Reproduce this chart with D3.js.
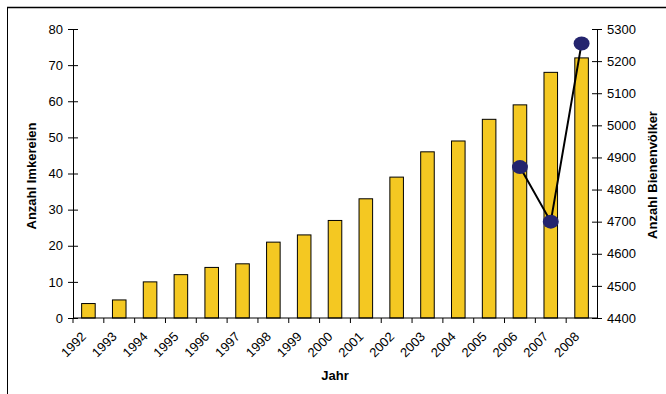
<!DOCTYPE html>
<html>
<head>
<meta charset="utf-8">
<script src="https://cdn.jsdelivr.net/npm/d3@7/dist/d3.min.js"></script>
<style>
  html, body { margin: 0; padding: 0; background: #fff; }
  svg { display: block; font-family: "Liberation Sans", Arial, sans-serif; }
</style>
</head>
<body>
<svg id="chart" width="666" height="394"></svg>
<script>
// Beekeeping statistics per year
const years = ["1992","1993","1994","1995","1996","1997","1998","1999","2000",
               "2001","2002","2003","2004","2005","2006","2007","2008"];
const imkereien = [4, 5, 10, 12, 14, 15, 21, 23, 27, 33, 39, 46, 49, 55, 59, 68, 72];
const volkJahre = ["2006", "2007", "2008"];
const bienenvoelker = [4870, 4700, 5255];
const leftTicks = [0, 10, 20, 30, 40, 50, 60, 70, 80];
const rightTicks = [4400, 4500, 4600, 4700, 4800, 4900, 5000, 5100, 5200, 5300];

const svg = d3.select("#chart");
const plot = { left: 73, right: 597, top: 29, bottom: 318 };
const FONT = "Liberation Sans, Arial, sans-serif";

// Frame: top and left edges
svg.append("line").attr("x1", 7).attr("x2", 666).attr("y1", 7.5).attr("y2", 7.5)
  .attr("stroke", "#000").attr("stroke-width", 1.5);
svg.append("line").attr("x1", 7.5).attr("x2", 7.5).attr("y1", 7).attr("y2", 394)
  .attr("stroke", "#000").attr("stroke-width", 1);

const x = d3.scaleBand().domain(years).range([plot.left, plot.right]).paddingInner(0).paddingOuter(0);
const yL = d3.scaleLinear().domain([0, 80]).range([plot.bottom, plot.top]);
const yR = d3.scaleLinear().domain([4400, 5300]).range([plot.bottom, plot.top]);

const barW = x.bandwidth() * 0.44;

// Bars
svg.append("g").selectAll("rect").data(years).join("rect")
  .attr("x", (d) => x(d) + x.bandwidth() / 2 - barW / 2)
  .attr("y", (d, i) => yL(imkereien[i]))
  .attr("width", barW)
  .attr("height", (d, i) => yL(0) - yL(imkereien[i]))
  .attr("fill", "#f4c822")
  .attr("stroke", "#000")
  .attr("stroke-width", 1);

// Left axis
const axL = svg.append("g").attr("transform", `translate(${plot.left},0)`)
  .call(d3.axisLeft(yL).tickValues(leftTicks).tickSize(0).tickPadding(10));
axL.select(".domain").attr("stroke", "#000");
axL.selectAll(".tick line").attr("x1", -5).attr("x2", 5).attr("stroke", "#000");
axL.selectAll("text").attr("font-size", 13).attr("fill", "#000").attr("font-family", FONT);

// Right axis
const axR = svg.append("g").attr("transform", `translate(${plot.right},0)`)
  .call(d3.axisRight(yR).tickValues(rightTicks).tickFormat(d3.format("d")).tickSize(0).tickPadding(10));
axR.select(".domain").attr("stroke", "#000");
axR.selectAll(".tick line").attr("x1", -5).attr("x2", 5).attr("stroke", "#000");
axR.selectAll("text").attr("font-size", 13).attr("fill", "#000").attr("font-family", FONT);

// Bottom axis with ticks at category boundaries
const gx = svg.append("g").attr("transform", `translate(0,${plot.bottom})`);
gx.append("line").attr("x1", plot.left).attr("x2", plot.right).attr("stroke", "#000");
gx.selectAll("line.t").data(years).join("line").attr("class", "t")
  .attr("x1", (d) => x(d)).attr("x2", (d) => x(d))
  .attr("y1", 0).attr("y2", 5).attr("stroke", "#000");
gx.selectAll("text").data(years).join("text")
  .attr("transform", (d) => `translate(${x(d) + x.bandwidth() / 2 - 8},${13}) rotate(-45)`)
  .attr("text-anchor", "end")
  .attr("dy", "0.7em")
  .attr("font-size", 13)
  .text((d) => d);

// Bienenvölker line and markers
const line = d3.line().x((d, i) => x(volkJahre[i]) + x.bandwidth() / 2).y((d) => yR(d));
svg.append("path").datum(bienenvoelker).attr("d", line)
  .attr("fill", "none").attr("stroke", "#000").attr("stroke-width", 2);
svg.append("g").selectAll("ellipse").data(bienenvoelker).join("ellipse")
  .attr("cx", (d, i) => x(volkJahre[i]) + x.bandwidth() / 2)
  .attr("cy", (d) => yR(d))
  .attr("rx", 8).attr("ry", 7)
  .attr("fill", "#24246e");

// Axis titles
svg.append("text").attr("x", 335).attr("y", 380).attr("text-anchor", "middle")
  .attr("font-size", 13).attr("font-weight", "bold").text("Jahr");
svg.append("text").attr("transform", "translate(36,176) rotate(-90)")
  .attr("text-anchor", "middle").attr("font-size", 13).attr("font-weight", "bold")
  .text("Anzahl Imkereien");
svg.append("text").attr("transform", "translate(657,175) rotate(-90)")
  .attr("text-anchor", "middle").attr("font-size", 13).attr("font-weight", "bold")
  .text("Anzahl Bienenvölker");
</script>
</body>
</html>
